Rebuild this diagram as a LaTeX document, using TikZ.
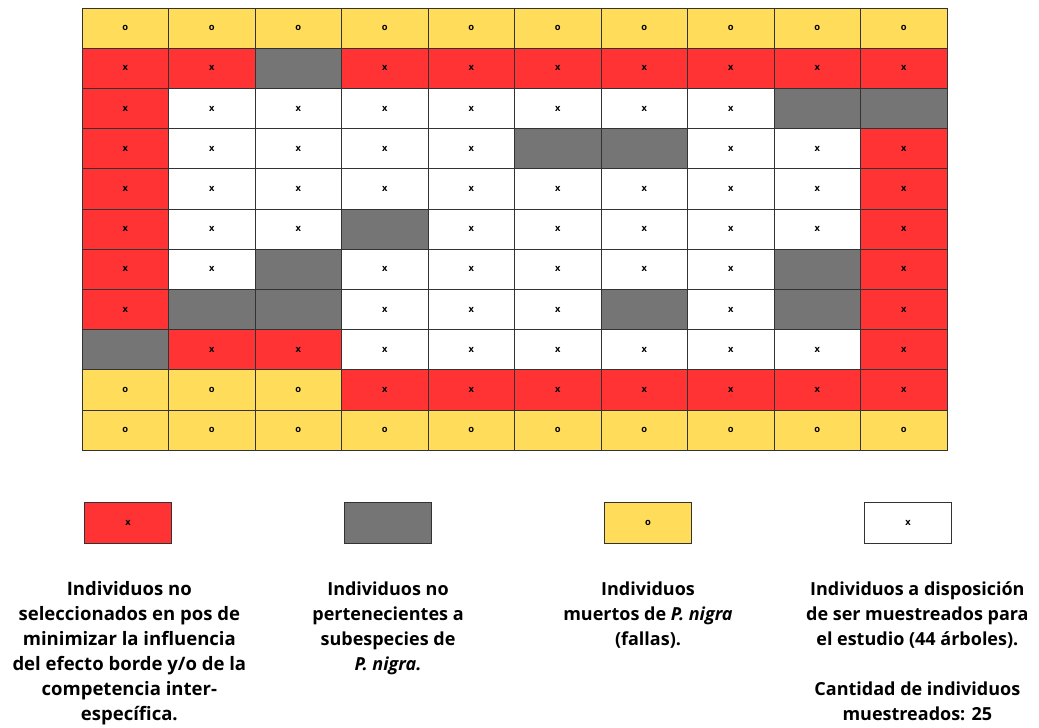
\documentclass[tikz,border=0pt]{standalone}
\usepackage{fontspec}
\setmainfont{Open Sans}
\usetikzlibrary{positioning}
\definecolor{rojo}{HTML}{FF3333}
\definecolor{amarillo}{HTML}{FFDD5A}
\definecolor{gris}{HTML}{757575}

\begin{document}
\begin{tikzpicture}[x=0.75pt,y=-0.75pt,
    celda/.style={draw=black!80,line width=0.75pt,minimum width=64.875pt,minimum height=30.15pt,inner sep=0pt,font=\fontsize{7}{7}\selectfont\bfseries},
    R/.style={celda,fill=rojo,node contents={x}},
    G/.style={celda,fill=gris,node contents={}},
    Y/.style={celda,fill=amarillo,node contents={o}},
    W/.style={celda,fill=white,node contents={x}},
    leyenda/.style={font=\fontsize{13.5}{18.75}\selectfont\bfseries,align=center}]
    \useasboundingbox (0,0) rectangle (1039,728);
    % parcela: 11 filas x 10 columnas
    \foreach \fila [count=\r] in {
        {Y,Y,Y,Y,Y,Y,Y,Y,Y,Y},
        {R,R,G,R,R,R,R,R,R,R},
        {R,W,W,W,W,W,W,W,G,G},
        {R,W,W,W,W,G,G,W,W,R},
        {R,W,W,W,W,W,W,W,W,R},
        {R,W,W,G,W,W,W,W,W,R},
        {R,W,G,W,W,W,W,W,G,R},
        {R,G,G,W,W,W,G,W,G,R},
        {G,R,R,W,W,W,W,W,W,R},
        {Y,Y,Y,R,R,R,R,R,R,R},
        {Y,Y,Y,Y,Y,Y,Y,Y,Y,Y}}
      \foreach \tipo [count=\k] in \fila
        \node (c\r-\k) at ({82+86.5*(\k-0.5)},{8+40.2*(\r-0.5)}) [\tipo];
    % leyenda
    \node (legR) at (128,523) [R];
    \node (legG) at (388,523) [draw=black!70,G];
    \node (legY) at (648,523) [Y];
    \node (legW) at (908,523) [W];
    \node[leyenda,font=\fontsize{13.9}{18.75}\selectfont\bfseries,below=25pt of legR,xshift=1pt] (txtR) {Individuos no\\seleccionados en pos de\\minimizar la influencia\\del efecto borde y/o de la\\competencia inter-\\específica.};
    \node[leyenda,below=25pt of legG] (txtG) {Individuos no\\pertenecientes a\\subespecies de\\\textit{P. nigra.}};
    \node[leyenda,below=25pt of legY] (txtY) {Individuos\\muertos de \textit{P. nigra}\\(fallas).};
    \node[leyenda,below=25pt of legW,xshift=7pt] (txtW) {Individuos a disposición\\de ser muestreados para\\el estudio (44 árboles).\\[18.75pt]Cantidad de individuos\\muestreados: 25};
\end{tikzpicture}
\end{document}
